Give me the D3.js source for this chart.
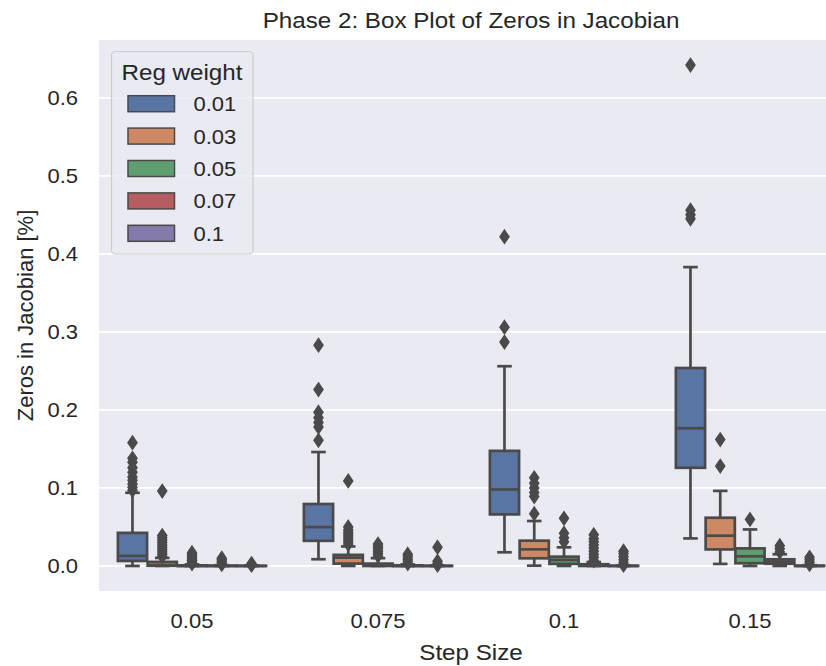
<!DOCTYPE html>
<html>
<head>
<meta charset="utf-8">
<script src="https://cdn.jsdelivr.net/npm/d3@7"></script>
<style>
  body { margin: 0; background: #fff; }
  text { font-family: "Liberation Sans", Arial, sans-serif; fill: #262626; }
</style>
</head>
<body>
<div class="chart"></div>
<script>
  // categories
  var stepSizes = ["0.05", "0.075", "0.1", "0.15"];
  var regWeights = ["0.01", "0.03", "0.05", "0.07", "0.1"];
  var yTicks = [0, 0.1, 0.2, 0.3, 0.4, 0.5, 0.6];

  // box stats, rows = step size, cols = reg weight
  var whiskerLow = [
    [0.0,    0.0,    0.0,    0.0,    0.0],
    [0.0086, 0.0,    0.0,    0.0,    0.0],
    [0.0175, 0.0004, 0.0,    0.0,    0.0],
    [0.0353, 0.0026, 0.0,    0.0,    0.0]
  ];
  var q1 = [
    [0.0064, 0.0003, 0.0,    0.0,    0.0],
    [0.0322, 0.003,  0.0,    0.0,    0.0],
    [0.0661, 0.0098, 0.0026, 0.0,    0.0],
    [0.1258, 0.0212, 0.0035, 0.0028, 0.0]
  ];
  var median = [
    [0.0128, 0.0012, 0.0,    0.0,    0.0],
    [0.0498, 0.0107, 0.0005, 0.0,    0.0],
    [0.098,  0.0213, 0.0077, 0.0004, 0.0],
    [0.1765, 0.0388, 0.0124, 0.0055, 0.0]
  ];
  var q3 = [
    [0.0424, 0.0052, 0.0008, 0.0004, 0.0002],
    [0.0794, 0.0142, 0.003,  0.0008, 0.0002],
    [0.1475, 0.0324, 0.0119, 0.0022, 0.0003],
    [0.2537, 0.0618, 0.0225, 0.0085, 0.0004]
  ];
  var whiskerHigh = [
    [0.0938, 0.0103, 0.002,  0.001,  0.0005],
    [0.146,  0.025,  0.01,   0.002,  0.0005],
    [0.256,  0.0576, 0.0239, 0.005,  0.0008],
    [0.383,  0.0962, 0.0468, 0.015,  0.001]
  ];
  var fliers = [
    [
      [0.097, 0.101, 0.105, 0.11, 0.114, 0.12, 0.126, 0.133, 0.138, 0.158],
      [0.012, 0.015, 0.018, 0.021, 0.024, 0.027, 0.030, 0.033, 0.036, 0.039, 0.096],
      [0.003, 0.005, 0.007, 0.009, 0.011, 0.013, 0.015, 0.017],
      [0.002, 0.004, 0.006, 0.008, 0.010],
      [0.001, 0.002, 0.003]
    ],
    [
      [0.161, 0.178, 0.184, 0.19, 0.197, 0.226, 0.283],
      [0.028, 0.031, 0.034, 0.037, 0.040, 0.043, 0.046, 0.050, 0.109],
      [0.013, 0.016, 0.019, 0.022, 0.025, 0.028],
      [0.003, 0.006, 0.009, 0.012, 0.015],
      [0.001, 0.003, 0.006, 0.024]
    ],
    [
      [0.287, 0.306, 0.422],
      [0.067, 0.089, 0.094, 0.1, 0.106, 0.113],
      [0.031, 0.036, 0.042, 0.061],
      [0.007, 0.011, 0.015, 0.019, 0.023, 0.027, 0.031, 0.035, 0.04],
      [0.001, 0.004, 0.008, 0.012, 0.016, 0.019]
    ],
    [
      [0.445, 0.45, 0.456, 0.642],
      [0.128, 0.162],
      [0.0596],
      [0.018, 0.022, 0.026],
      [0.002, 0.005, 0.008, 0.011]
    ]
  ];

  var colors = ["#5975a4", "#cc8963", "#5f9e6e", "#b55d60", "#857aab"];
  var gray = "#4a4a4a";
  // the picture is a bit wider than tall, text looks stretched
  var sx = 1.1;

  drawBoxPlot();

  function addText(parent, x, y, str, size, anchor){
    return parent.append("text")
      .attr("transform", "translate(" + x + "," + y + ") scale(" + sx + ",1)")
      .attr("text-anchor", anchor || "start")
      .style("font-size", size + "px")
      .text(str);
  }

  function drawBoxPlot(){
    var w = 826, h = 666;
    var left = 99, right = 843, top = 40, bottom = 591;

    var svg = d3.select(".chart")
      .append("svg")
      .attr("width", w)
      .attr("height", h);

    // seaborn: categories at 0..n-1, limits -0.5..n-0.5
    var x = d3.scaleLinear()
      .domain([-0.5, stepSizes.length - 0.5])
      .range([left, right]);
    var y = d3.scaleLinear()
      .domain([-0.0321, 0.6741])
      .range([bottom, top]);

    //背景
    svg.append("rect")
      .attr("x", left).attr("y", top)
      .attr("width", right - left).attr("height", bottom - top)
      .attr("fill", "#eaeaf2");

    //横向网格线
    svg.append("g").selectAll("line")
      .data(yTicks)
      .enter().append("line")
      .attr("x1", left).attr("x2", right)
      .attr("y1", function(d){ return y(d); })
      .attr("y2", function(d){ return y(d); })
      .attr("stroke", "#fff")
      .attr("stroke-width", 1.8);

    // tick labels, no tick marks
    var fmt = d3.format(".1f");
    var ty = svg.append("g");
    yTicks.forEach(function(t){
      addText(ty, left - 21, y(t) + 7, fmt(t), 20, "end");
    });
    var tx = svg.append("g");
    stepSizes.forEach(function(s, i){
      addText(tx, x(i), 628, s, 20, "middle");
    });

    //箱线图
    var hueW = 0.8 / regWeights.length;
    var boxW = x(hueW * 0.98) - x(0);
    var capW = boxW / 2;

    var boxes = [];
    for (var i = 0; i < stepSizes.length; i++) {
      for (var j = 0; j < regWeights.length; j++) {
        boxes.push({
          cx: x(i - 0.4 + hueW * (j + 0.5)),
          lo: whiskerLow[i][j], q1: q1[i][j], med: median[i][j],
          q3: q3[i][j], hi: whiskerHigh[i][j],
          fliers: fliers[i][j], color: colors[j]
        });
      }
    }

    var lw = 2.7;
    var g = svg.append("g");
    var box = g.selectAll(".box")
      .data(boxes)
      .enter().append("g")
      .attr("class", "box");

    // whiskers
    box.append("line")
      .attr("x1", function(d){ return d.cx; }).attr("x2", function(d){ return d.cx; })
      .attr("y1", function(d){ return y(d.q3); }).attr("y2", function(d){ return y(d.hi); })
      .attr("stroke", gray).attr("stroke-width", lw);
    box.append("line")
      .attr("x1", function(d){ return d.cx; }).attr("x2", function(d){ return d.cx; })
      .attr("y1", function(d){ return y(d.q1); }).attr("y2", function(d){ return y(d.lo); })
      .attr("stroke", gray).attr("stroke-width", lw);
    // caps
    box.selectAll(".cap")
      .data(function(d){ return [d.lo, d.hi].map(function(v){ return {cx: d.cx, v: v}; }); })
      .enter().append("line")
      .attr("x1", function(d){ return d.cx - capW / 2; })
      .attr("x2", function(d){ return d.cx + capW / 2; })
      .attr("y1", function(d){ return y(d.v); })
      .attr("y2", function(d){ return y(d.v); })
      .attr("stroke", gray).attr("stroke-width", lw);
    // box body
    box.append("rect")
      .attr("x", function(d){ return d.cx - boxW / 2; })
      .attr("width", boxW)
      .attr("y", function(d){ return y(d.q3); })
      .attr("height", function(d){ return y(d.q1) - y(d.q3); })
      .attr("fill", function(d){ return d.color; })
      .attr("stroke", gray).attr("stroke-width", lw);
    // median
    box.append("line")
      .attr("x1", function(d){ return d.cx - boxW / 2; })
      .attr("x2", function(d){ return d.cx + boxW / 2; })
      .attr("y1", function(d){ return y(d.med); })
      .attr("y2", function(d){ return y(d.med); })
      .attr("stroke", gray).attr("stroke-width", lw);
    // outliers, thin diamonds
    var dh = 6.3, dw = 4.3;
    box.selectAll(".flier")
      .data(function(d){ return d.fliers.map(function(v){ return {cx: d.cx, v: v}; }); })
      .enter().append("path")
      .attr("class", "flier")
      .attr("d", function(d){
        var p = d3.path(), cy = y(d.v);
        p.moveTo(d.cx, cy - dh);
        p.lineTo(d.cx + dw, cy);
        p.lineTo(d.cx, cy + dh);
        p.lineTo(d.cx - dw, cy);
        p.closePath();
        return p.toString();
      })
      .attr("fill", gray).attr("stroke", gray).attr("stroke-width", 1.8)
      .attr("stroke-linejoin", "miter");

    //标题和轴标签
    addText(svg, (left + right) / 2, 27.5, "Phase 2: Box Plot of Zeros in Jacobian", 22, "middle");
    addText(svg, (left + right) / 2, 660, "Step Size", 22, "middle");
    svg.append("text")
      .attr("transform", "translate(33," + (top + bottom) / 2 + ") rotate(-90)")
      .attr("text-anchor", "middle")
      .style("font-size", "22px")
      .text("Zeros in Jacobian [%]");

    //图例
    var lg = svg.append("g");
    lg.append("rect")
      .attr("x", 111.5).attr("y", 51.5)
      .attr("width", 141.5).attr("height", 202.5)
      .attr("rx", 4)
      .attr("fill", "#eaeaf2").attr("fill-opacity", 0.8)
      .attr("stroke", "#cccccc").attr("stroke-width", 1.2);
    addText(lg, 182, 79.5, "Reg weight", 22, "middle");
    var item = lg.selectAll(".item")
      .data(regWeights)
      .enter().append("g")
      .attr("class", "item")
      .attr("transform", function(d, i){ return "translate(0," + (95.7 + i * 32.4) + ")"; });
    item.append("rect")
      .attr("x", 128).attr("y", 0)
      .attr("width", 46.5).attr("height", 16)
      .attr("fill", function(d, i){ return colors[i]; })
      .attr("stroke", gray).attr("stroke-width", 1.5);
    item.each(function(d){
      addText(d3.select(this), 193.5, 15.5, d, 20, "start");
    });
  }
</script>
</body>
</html>
